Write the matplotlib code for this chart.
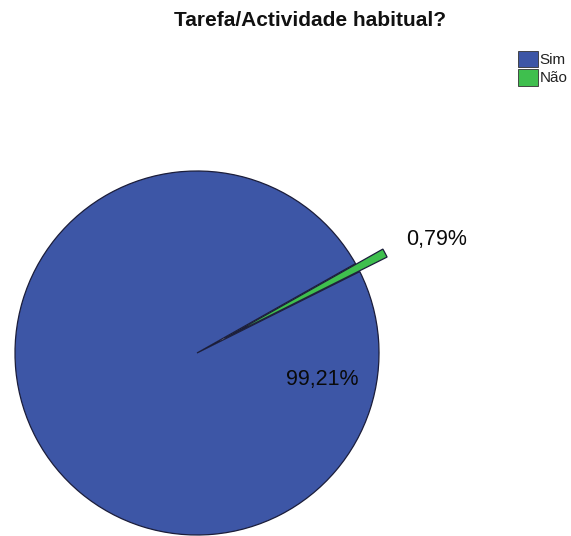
import matplotlib
matplotlib.use("Agg")
import matplotlib.pyplot as plt
from matplotlib.patches import Patch

plt.rcParams['font.family'] = ['Liberation Sans', 'DejaVu Sans']

title = "Tarefa/Actividade habitual?"
categories = ["Sim", "Não"]
values = [99.21, 0.79]
labels = ["99,21%", "0,79%"]
colors = ["#3D56A6", "#3FBF4E"]
explode = [0.0, 0.17]

W, H = 571, 536
fig = plt.figure(figsize=(W / 100, H / 100), dpi=100)
ax = fig.add_axes([0, 0, 1, 1])

R = 182.0
cx, cy = 197.0, 353.0

wedges, _ = ax.pie(values, colors=colors, explode=explode, startangle=29.42,
                   counterclock=True, radius=1.0,
                   wedgeprops=dict(edgecolor="#1b1d3a", linewidth=0.9))

ax.set_xlim(-cx / R, (W - cx) / R)
ax.set_ylim(-(H - cy) / R, cy / R)
ax.set_aspect('equal')
ax.axis('off')

# percentage labels
ax.text((322 - cx) / R, (cy - 380) / R, labels[0], ha='center', va='center',
        fontsize=15.5, color='#0a0a0a')
ax.text((437 - cx) / R, (cy - 240) / R, labels[1], ha='center', va='center',
        fontsize=15.5, color='#0a0a0a')

fig.text(310 / W, 1 - 21 / H, title, ha='center', va='center',
         fontsize=15, fontweight='bold', color='#111111')

handles = [Patch(facecolor=c, edgecolor='#333333', linewidth=0.6) for c in colors]
leg = fig.legend(handles, categories, loc='upper left',
                 bbox_to_anchor=(507 / W, 1 - 40 / H), frameon=False,
                 fontsize=11, handlelength=1.3, handleheight=1.3,
                 handletextpad=0.15, labelspacing=0.1, borderpad=0.2)
for t in leg.get_texts():
    t.set_color('#222222')

fig.savefig("out.png", dpi=100)
